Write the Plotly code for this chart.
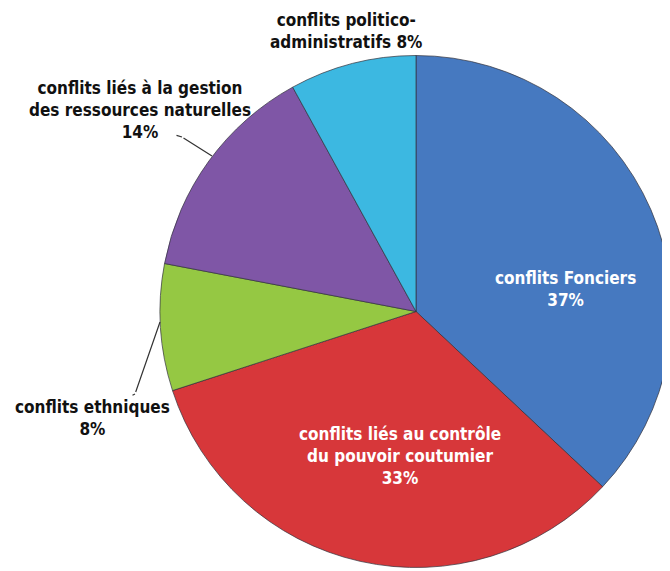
import plotly.graph_objects as go

categories = [
    "conflits Fonciers",
    "conflits liés au contrôle<br>du pouvoir coutumier",
    "conflits ethniques",
    "conflits liés à la gestion<br>des ressources naturelles",
    "conflits politico-<br>administratifs",
]
values = [37, 33, 8, 14, 8]
colors = ["#4679c0", "#d7373a", "#95c843", "#7f56a6", "#3cb8e1"]

FONT = "DejaVu Sans Condensed, Liberation Sans Narrow, Arial Narrow, sans-serif"
W, H = 670, 571
OFF = 8  # page body margin


def px(x):
    return (x - OFF) / W


def py(y):
    return 1 - (y - OFF) / H


fig = go.Figure(go.Pie(
    labels=categories,
    values=values,
    textinfo="none",
    marker=dict(colors=colors, line=dict(color="rgba(50,50,60,0.7)", width=1)),
    sort=False,
    direction="clockwise",
    rotation=0,
    showlegend=False,
    hoverinfo="label+percent",
    domain=dict(x=[152 / W, 664 / W], y=[1 - 560 / H, 1 - 47 / H]),
))

dark = dict(family=FONT, size=17, color="#111111")
light = dict(family=FONT, size=17, color="white")


def label(x, y, text, font):
    fig.add_annotation(x=px(x), y=py(y), xref="paper", yref="paper",
                       text=text, showarrow=False, font=font, align="center",
                       xanchor="center", yanchor="middle")


# labels inside slices
label(565, 289, f"<b>{categories[0]}<br>{values[0]}%</b>", light)
label(400, 456, f"<b>{categories[1]}<br>{values[1]}%</b>", light)

# labels outside
label(346, 31, f"<b>{categories[4]} {values[4]}%</b>", dark)
label(140, 110, f"<b>{categories[3]}<br>{values[3]}%</b>", dark)
label(92, 418, f"<b>{categories[2]}<br>{values[2]}%</b>", dark)

# leader lines
leaders = [
    ((212, 156), (182, 137)),
    ((182, 137), (175, 135)),
    ((160, 322), (135, 394)),
    ((135, 394), (131, 396)),
]
for (x0, y0), (x1, y1) in leaders:
    fig.add_annotation(
        x=px(x0), y=py(y0), xref="paper", yref="paper",
        ax=x1 - x0, ay=y1 - y0,
        text=" ", font=dict(size=1), showarrow=True, arrowhead=0,
        arrowwidth=1.2, arrowcolor="#333333", standoff=0, startstandoff=0,
    )

fig.update_layout(
    width=W, height=H,
    margin=dict(l=0, r=0, t=0, b=0),
    paper_bgcolor="white",
    plot_bgcolor="white",
)
fig.write_html("out.html")
